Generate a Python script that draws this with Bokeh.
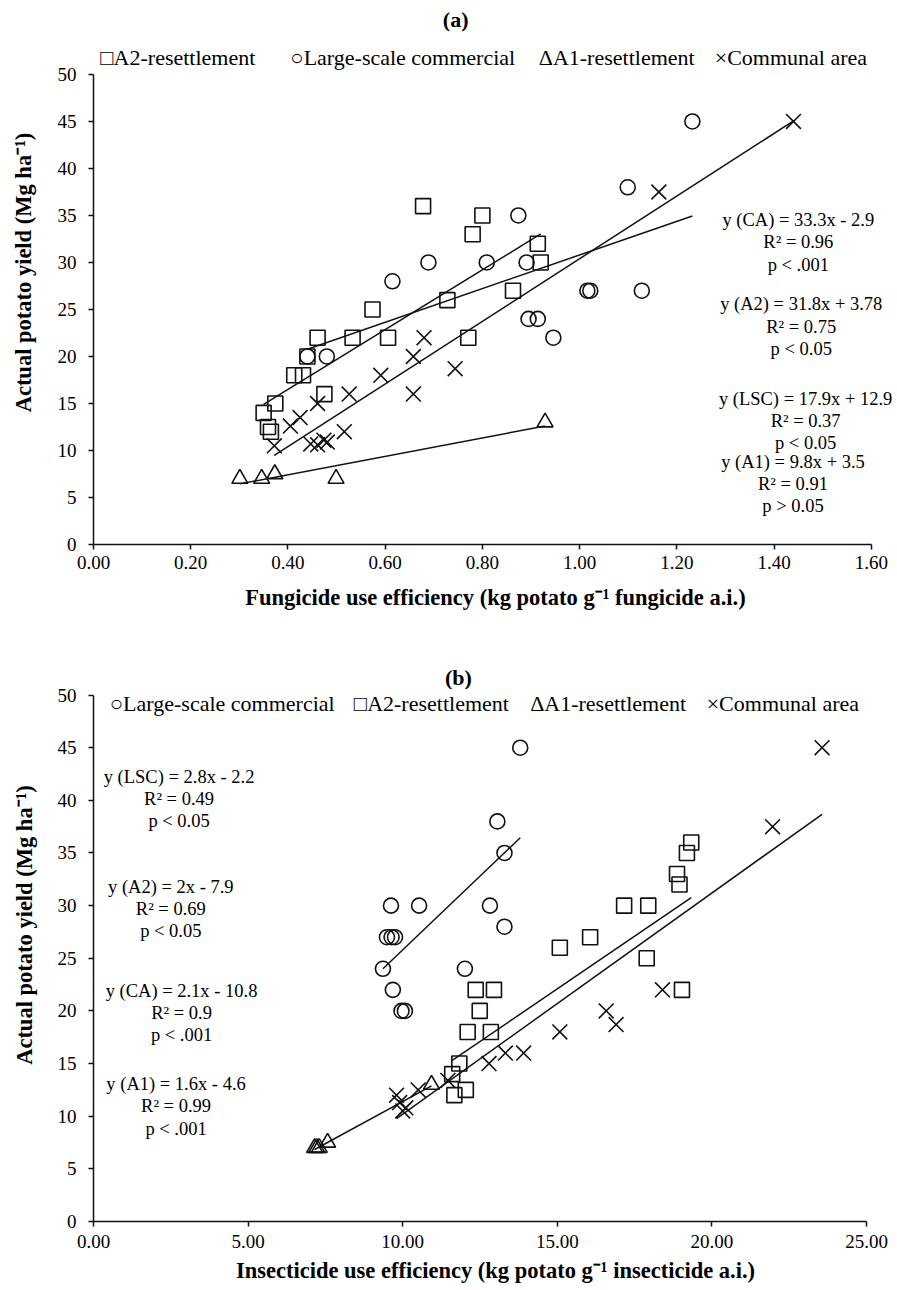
from bokeh.plotting import figure
from bokeh.layouts import column
from bokeh.models import Range1d, FixedTicker, NumeralTickFormatter
from bokeh.core.properties import value
from bokeh.embed import file_html
from bokeh.resources import INLINE

SERIF = "Liberation Serif"
INK = "#111111"

# ---------------- (a) Fungicide use efficiency ----------------
fung_a2_x = [0.678, 0.800, 0.780, 0.728, 0.574, 0.461, 0.533, 0.606, 0.771, 0.440,
             0.413, 0.431, 0.475, 0.374, 0.350, 0.359, 0.365, 0.914, 0.920, 0.863]
fung_a2_y = [36, 35, 33, 26, 25, 22, 22, 22, 22, 20,
             18, 18, 16, 15, 14, 12.5, 12, 32, 30, 27]

fung_lsc_x = [0.615, 0.689, 0.809, 0.440, 0.480, 1.232, 1.099, 0.874, 0.891, 1.016,
              1.022, 1.128, 0.895, 0.914, 0.946]
fung_lsc_y = [28, 30, 30, 20, 20, 45, 38, 35, 30, 27,
              27, 27, 24, 24, 22]

fung_a1_x = [0.301, 0.346, 0.373, 0.499, 0.929]
fung_a1_y = [7, 7, 7.5, 7, 13]

fung_ca_x = [1.440, 1.163, 0.680, 0.658, 0.744, 0.591, 0.526, 0.658, 0.461, 0.425,
             0.405, 0.516, 0.447, 0.461, 0.474, 0.481, 0.372]
fung_ca_y = [45, 37.5, 22, 20, 18.7, 18, 16, 16, 15, 13.5,
             12.6, 12, 10.7, 10.6, 11.1, 10.9, 10.5]

# fitted equations as printed (order of the text blocks)
fung_fit_group = ["CA", "A2", "LSC", "A1"]
fung_fit_slope = [33.3, 31.8, 17.9, 9.8]
fung_fit_icept = [-2.9, 3.78, 12.9, 3.5]
fung_fit_r2 = ["0.96", "0.75", "0.37", "0.91"]
fung_fit_p = ["p < .001", "p < 0.05", "p < 0.05", "p > 0.05"]

fung_xticks = [0.0, 0.2, 0.4, 0.6, 0.8, 1.0, 1.2, 1.4, 1.6]

# ---------------- (b) Insecticide use efficiency ----------------
ins_lsc_x = [13.80, 13.06, 13.29, 9.62, 10.53, 12.82, 13.29, 9.49, 9.64, 9.75,
             9.36, 12.01, 9.68, 9.96, 10.07]
ins_lsc_y = [45, 38, 35, 30, 30, 30, 28, 27, 27, 27,
             24, 24, 22, 20, 20]

ins_a2_x = [19.33, 19.19, 18.87, 18.95, 17.16, 17.94, 16.06, 15.08, 17.89, 19.03,
            12.36, 12.95, 12.49, 12.10, 12.85, 11.83, 11.60, 11.67, 12.04]
ins_a2_y = [36, 35, 33, 32, 30, 30, 27, 26, 25, 22,
            22, 22, 20, 18, 18, 15, 14, 12, 12.5]

ins_a1_x = [7.15, 7.22, 7.30, 7.57, 10.93]
ins_a1_y = [7, 7, 7, 7.5, 13]

ins_ca_x = [23.56, 21.96, 18.40, 16.58, 16.90, 15.08, 13.91, 13.32, 12.79, 11.46,
            10.50, 9.80, 9.90, 10.10, 10.00]
ins_ca_y = [45, 37.5, 22, 20, 18.7, 18, 16, 16, 15, 13.4,
            12.5, 12, 11.3, 10.8, 10.5]

ins_fit_group = ["LSC", "A2", "CA", "A1"]
ins_fit_slope = [2.8, 2.0, 2.1, 1.6]
ins_fit_icept = [-2.2, -7.9, -10.8, -4.6]
ins_fit_r2 = ["0.49", "0.69", "0.9", "0.99"]
ins_fit_p = ["p < 0.05", "p < 0.05", "p < .001", "p < .001"]

ins_xticks = [0, 5, 10, 15, 20, 25]

yticks = [0, 5, 10, 15, 20, 25, 30, 35, 40, 45, 50]
YLABEL = "Actual potato yield (Mg ha\u207b\u00b9)"


def equation(group, slope, icept):
    sign = "+" if icept >= 0 else "-"
    return f"y ({group}) = {slope:g}x {sign} {abs(icept):g}"


def make_panel(height, xmax, ymax, xbound, xticks, border_left, border_bottom,
               xlabel, tick_std_x, label_std_x, label_std_y):
    p = figure(width=897, height=height,
               x_range=Range1d(0, xmax), y_range=Range1d(0, ymax),
               output_backend="svg", toolbar_location=None,
               min_border_left=border_left, min_border_right=0,
               min_border_top=0, min_border_bottom=border_bottom)
    p.outline_line_color = None
    p.xgrid.visible = False
    p.ygrid.visible = False
    p.background_fill_color = "white"
    p.border_fill_color = "white"

    for ax in (p.xaxis[0], p.yaxis[0]):
        ax.axis_line_color = INK
        ax.axis_line_width = 1.5
        ax.major_tick_line_color = INK
        ax.major_tick_line_width = 1.5
        ax.major_tick_out = 5
        ax.major_tick_in = 0
        ax.minor_tick_line_color = None
        ax.major_label_text_font = SERIF
        ax.major_label_text_font_size = "19px"
        ax.major_label_text_color = "black"
        ax.axis_label_text_font = SERIF
        ax.axis_label_text_font_size = "22.5px"
        ax.axis_label_text_font_style = "bold"
        ax.axis_label_text_color = "black"

    p.xaxis.ticker = FixedTicker(ticks=xticks)
    p.xaxis.formatter = NumeralTickFormatter(format="0.00")
    p.xaxis.bounds = (0, xbound)
    p.xaxis.axis_label = xlabel
    p.xaxis.major_label_standoff = tick_std_x
    p.xaxis.axis_label_standoff = label_std_x

    p.yaxis.ticker = FixedTicker(ticks=yticks)
    p.yaxis.bounds = (0, 50)
    p.yaxis.axis_label = YLABEL
    p.yaxis.major_label_standoff = 12
    p.yaxis.axis_label_standoff = label_std_y
    return p


def draw_series(p, xs, ys, marker, size, slope=None, icept=None):
    p.scatter(xs, ys, marker=marker, size=size, fill_color=None,
              line_color=INK, line_width=1.6)
    if slope is not None:
        x0, x1 = min(xs), max(xs)
        p.line([x0, x1], [slope * x0 + icept, slope * x1 + icept],
               line_color=INK, line_width=1.5)


def put_text(p, xs, ys, texts, size, align="center", style="normal"):
    p.text(x=xs, y=ys, text=texts, text_font=value(SERIF),
           text_font_size=size, text_font_style=style, text_color="black",
           text_align=align, text_baseline="middle")


# ---------------- build (a) ----------------
pa = make_panel(height=628, xmax=1.654, ymax=57.87, xbound=1.6, xticks=fung_xticks,
                border_left=93, border_bottom=84,
                xlabel="Fungicide use efficiency (kg potato g\u207b\u00b9 fungicide a.i.)",
                tick_std_x=6, label_std_x=13, label_std_y=19)

fa = dict(zip(fung_fit_group, zip(fung_fit_slope, fung_fit_icept)))
draw_series(pa, fung_a2_x, fung_a2_y, "square", 15, *fa["A2"])
draw_series(pa, fung_lsc_x, fung_lsc_y, "circle", 15, *fa["LSC"])
draw_series(pa, fung_a1_x, fung_a1_y, "triangle", 16, *fa["A1"])
draw_series(pa, fung_ca_x, fung_ca_y, "x", 21, *fa["CA"])

put_text(pa, [0.745], [55.8], ["(a)"], "22px", style="bold")
put_text(pa, [0.014, 0.405, 0.916, 1.278], [51.84] * 4,
         ["\u25a1A2-resettlement", "\u25cbLarge-scale commercial",
          "\u0394A1-resettlement", "\u00d7Communal area"], "22px", align="left")

fa_cx = [1.450, 1.456, 1.465, 1.439]
fa_cy = [34.50, 25.56, 15.53, 8.79]
fa_step = 2.37
lines_x, lines_y, lines_t = [], [], []
for i, g in enumerate(fung_fit_group):
    for k, t in enumerate([equation(g, fung_fit_slope[i], fung_fit_icept[i]),
                           f"R\u00b2 = {fung_fit_r2[i]}", fung_fit_p[i]]):
        lines_x.append(fa_cx[i])
        lines_y.append(fa_cy[i] - k * fa_step)
        lines_t.append(t)
put_text(pa, lines_x, lines_y, lines_t, "18.5px")

# ---------------- build (b) ----------------
pb = make_panel(height=662, xmax=26.0, ymax=56.32, xbound=25, xticks=ins_xticks,
                border_left=84, border_bottom=69,
                xlabel="Insecticide use efficiency (kg potato g\u207b\u00b9 insecticide a.i.)",
                tick_std_x=8, label_std_x=7, label_std_y=18)

fb = dict(zip(ins_fit_group, zip(ins_fit_slope, ins_fit_icept)))
draw_series(pb, ins_lsc_x, ins_lsc_y, "circle", 15, *fb["LSC"])
draw_series(pb, ins_a2_x, ins_a2_y, "square", 15, *fb["A2"])
draw_series(pb, ins_a1_x, ins_a1_y, "triangle", 16, *fb["A1"])
draw_series(pb, ins_ca_x, ins_ca_y, "x", 21, *fb["CA"])

put_text(pb, [11.80], [51.63], ["(b)"], "22px", style="bold")
put_text(pb, [0.528, 8.42, 14.12, 19.83], [49.16] * 4,
         ["\u25cbLarge-scale commercial", "\u25a1A2-resettlement",
          "\u0394A1-resettlement", "\u00d7Communal area"], "22px", align="left")

fb_cx = [2.767, 2.50, 2.847, 2.67]
fb_cy = [42.26, 31.81, 21.91, 13.05]
fb_step = 2.12
lines_x, lines_y, lines_t = [], [], []
for i, g in enumerate(ins_fit_group):
    for k, t in enumerate([equation(g, ins_fit_slope[i], ins_fit_icept[i]),
                           f"R\u00b2 = {ins_fit_r2[i]}", ins_fit_p[i]]):
        lines_x.append(fb_cx[i])
        lines_y.append(fb_cy[i] - k * fb_step)
        lines_t.append(t)
put_text(pb, lines_x, lines_y, lines_t, "18.5px")

layout = column(pa, pb, spacing=0)
open("out.html", "w").write(file_html(layout, INLINE))
